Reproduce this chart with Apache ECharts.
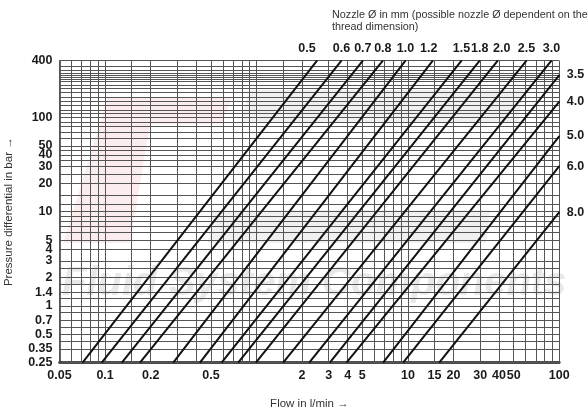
<!DOCTYPE html>
<html>
<head>
<meta charset="utf-8">
<script src="https://cdn.jsdelivr.net/npm/echarts@6/dist/echarts.min.js"></script>
<style>
html,body{margin:0;padding:0;background:#fff;}
#chart{width:588px;height:411px;}
</style>
</head>
<body>
<div id="chart"></div>
<script>
// Nozzle diameters (mm)
const nozzleLabels = ['0.5','0.6','0.7','0.8','1.0','1.2','1.5','1.8','2.0','2.5','3.0','3.5','4.0','5.0','6.0','8.0'];
// Flow (l/min) where each line meets the bottom of the chart (0.25 bar)
const flowAtMinPressure = [0.071,0.095,0.129,0.170,0.282,0.423,0.588,0.757,0.991,1.50,2.23,3.05,3.93,6.86,9.30,16.1];
// End point of each line (flow l/min, pressure bar)
const flowAtEnd = [2.51,3.64,5.04,6.83,9.64,14.6,22.6,29.8,39.2,60.7,88.7,100,100,100,100,100];
const pressureAtEnd = [400,400,400,400,400,400,400,400,400,400,400,282,147,63.5,30.5,9.9];
const pressureMin = 0.25;
const pressureMax = 400;
const flowMin = 0.05;
const flowMax = 100;

// Grid lines and tick labels
const xGridValues = [0.05,0.06,0.07,0.08,0.09,0.1,0.15,0.2,0.3,0.4,0.5,0.6,0.7,0.8,0.9,1,1.5,2,3,4,5,6,7,8,9,10,15,20,30,40,50,60,70,80,90,100];
const xTickLabels = [0.05,0.1,0.2,0.5,2,3,4,5,10,15,20,30,40,50,100];
const yGridValues = [0.25,0.35,0.42,0.5,0.6,0.7,0.85,1,1.2,1.4,1.7,2,2.5,3,4,5,6,7,8,9,10,12,15,20,25,30,35,40,45,50,60,70,80,90,100,110,120,135,150,165,185,205,220,240,255,270,280,295,320,350,400];
const yTickLabels = [400,300,200,100,50,40,30,20,10,5,4,3,2,1.4,1,0.7,0.5,0.35,0.25];

const FONT = "'Liberation Sans',Arial,sans-serif";
const tickStyle = {color:'#1a1a1a', fontWeight:'bold', fontSize:12.5, fontFamily:FONT};
const textStyleReg = {fontSize:11.5, color:'#333', fontFamily:FONT, fontWeight:'normal'};
// small horizontal nudges of the top nozzle labels (style only)
const labelNudge = {'0.5':-10, '1.2':-4, '2.0':4};

const chart = echarts.init(document.getElementById('chart'), null, {renderer:'canvas'});

const xLines = xGridValues.map(v => ({
  xAxis: v,
  label: xTickLabels.includes(v)
    ? Object.assign({show:true, position:'start', distance:6, formatter:String(v)}, tickStyle)
    : {show:false}
}));
const yLines = yGridValues.map(v => ({
  yAxis: v,
  label: yTickLabels.includes(v)
    ? Object.assign({show:true, position:'start', distance:7, formatter:String(v)}, tickStyle)
    : {show:false}
}));

const nozzleSeries = nozzleLabels.map((name, i) => {
  const atTop = pressureAtEnd[i] >= pressureMax;
  return {
    type:'line',
    name:name,
    z:5,
    silent:true,
    showSymbol:true,
    lineStyle:{color:'#111', width:2},
    itemStyle:{color:'#111'},
    data:[
      {value:[flowAtMinPressure[i], pressureMin], symbol:'none'},
      {value:[flowAtEnd[i], pressureAtEnd[i]], symbol:'circle', symbolSize:1,
       label:Object.assign({show:true, formatter:name,
         position: atTop ? 'top' : 'right', distance: atTop ? 5 : 7,
         offset:[labelNudge[name] || 0, 0]}, tickStyle)}
    ]
  };
});

const pink = '#fbeded';
const grey = '#f0f0f0';
const option = {
  animation:false,
  backgroundColor:'#fff',
  title:{
    text:'Nozzle Ø in mm (possible nozzle Ø dependent on the\nthread dimension)',
    left:327, top:4,
    textStyle:Object.assign({}, textStyleReg, {fontSize:10.8, lineHeight:12})
  },
  graphic:[
    {type:'polygon', z:-20, silent:true, shape:{points:[[107,98],[232,98],[222,124],[100,124]]}, style:{fill:pink}},
    {type:'polygon', z:-20, silent:true, shape:{points:[[100,124],[150,124],[130,243],[63,243]]}, style:{fill:pink}},
    {type:'polygon', z:-20, silent:true, shape:{points:[[250,90],[523,90],[518,123],[240,123]]}, style:{fill:grey}},
    {type:'polygon', z:-20, silent:true, shape:{points:[[212,210],[490,210],[486,243],[208,243]]}, style:{fill:grey}},
    {type:'text', left:62, top:264, z:-10, silent:true,
     style:{text:'Fluid System Components', fill:'#e8e8e8',
       font:"italic bold 40px 'Liberation Sans',Arial,sans-serif"}}
  ],
  grid:{left:59.5, right:28.7, top:60.7, bottom:48.3, containLabel:false, outerBoundsMode:'none'},
  xAxis:{
    type:'log', logBase:10, min:flowMin, max:flowMax,
    name:'Flow in l/min →', nameLocation:'middle', nameGap:35,
    nameTextStyle:textStyleReg,
    axisLine:{show:true, lineStyle:{color:'#111', width:2.5}},
    axisTick:{show:false}, axisLabel:{show:false}, splitLine:{show:false}
  },
  yAxis:{
    type:'log', logBase:10, min:pressureMin, max:pressureMax,
    name:'Pressure differential in bar →', nameLocation:'middle', nameGap:45, nameRotate:90,
    nameTextStyle:textStyleReg,
    axisLine:{show:true, lineStyle:{color:'#333', width:1.5}},
    axisTick:{show:false}, axisLabel:{show:false}, splitLine:{show:false}
  },
  series:[{
    type:'line', name:'grid', data:[], z:1, silent:true,
    markLine:{
      silent:true, symbol:['none','none'], animation:false,
      lineStyle:{color:'#555', width:1, type:'solid'},
      emphasis:{disabled:true},
      data: xLines.concat(yLines)
    }
  }].concat(nozzleSeries)
};
chart.setOption(option);
</script>
</body>
</html>
